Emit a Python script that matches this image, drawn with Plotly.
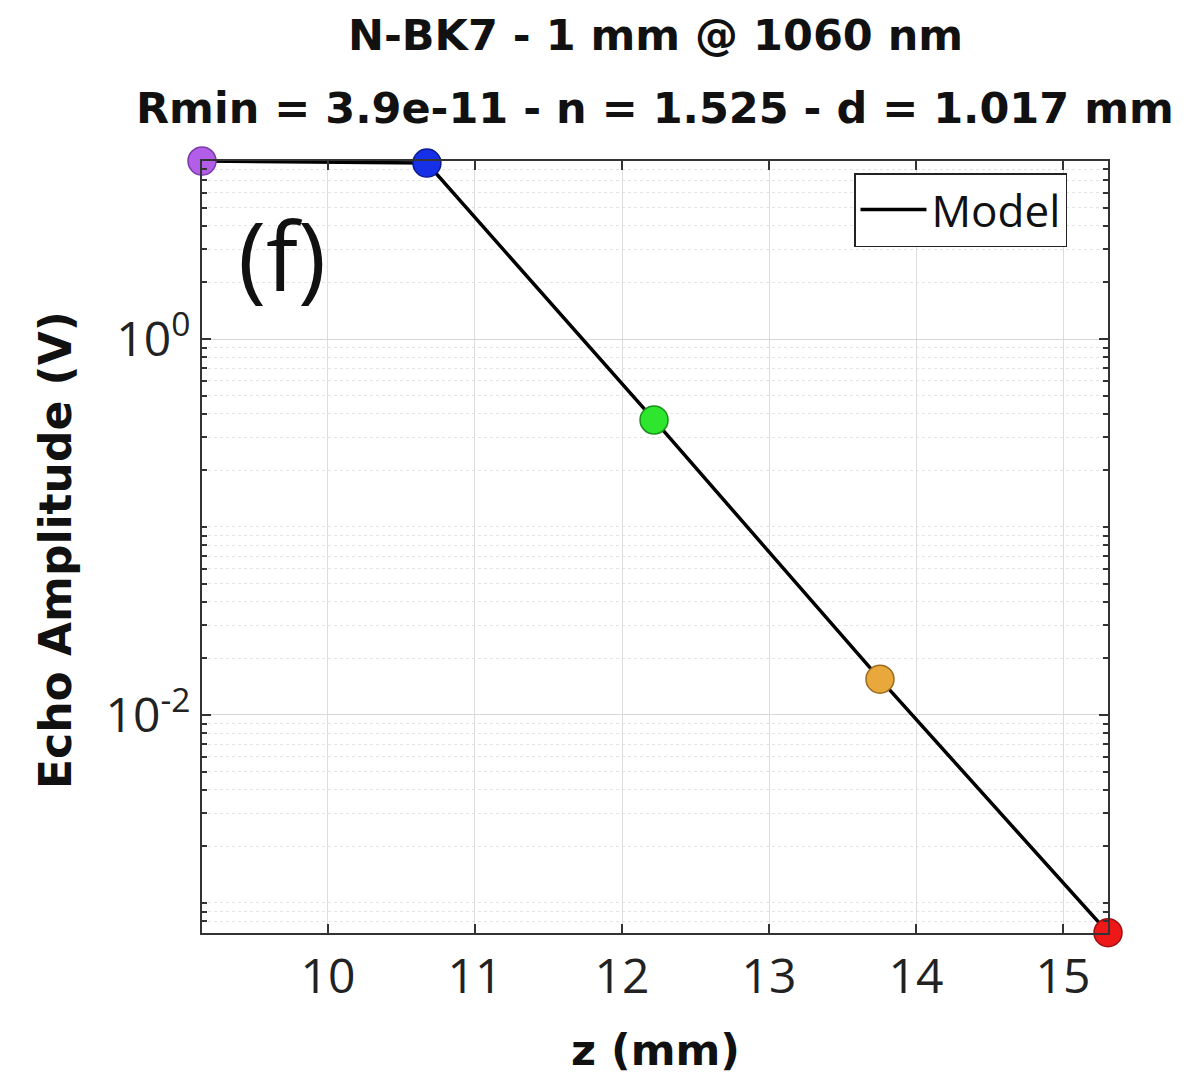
import plotly.graph_objects as go
import numpy as np

# ---- data ----
z_mm = [9.143, 10.673, 12.218, 13.755, 15.306]
amp_v = [8.85, 8.63, 0.371, 0.0155, 6.95e-4]
point_fill = ["#b25ee8", "#1530e6", "#2ee62e", "#e8a83c", "#ee1818"]
point_edge = ["#7a3aa8", "#0a1a90", "#1a901a", "#9a6a20", "#a00e0e"]
x_ticks = [10, 11, 12, 13, 14, 15]
y_ticks = [1e-2, 1]
y_ticktext = ["10<sup>-2</sup>", "10<sup>0</sup>"]
title1 = "N-BK7 - 1 mm @ 1060 nm"
title2 = "Rmin = 3.9e-11 - n = 1.525 - d = 1.017 mm"

minor_y = [k * 10.0 ** d for d in range(-4, 1) for k in range(1, 10)
           if not (k == 1 and d in (0, -2))]

FONT = "Open Sans"
BFONT = "DejaVu Sans"

fig = go.Figure()
fig.add_trace(go.Scatter(
    x=z_mm, y=amp_v, mode="lines", name="Model",
    line=dict(color="black", width=3.5), cliponaxis=False))
fig.add_trace(go.Scatter(
    x=z_mm, y=amp_v, mode="markers", showlegend=False,
    marker=dict(size=28, color=point_fill, line=dict(color=point_edge, width=1.5)),
    cliponaxis=False))

L, R, T, B = 202, 96, 161, 152
W, H = 1204, 1085
pw, ph = W - L - R, H - T - B

def py(ypx):
    return (H - B - ypx) / ph

def px(xpx):
    return (xpx - L) / pw

fig.update_layout(
    width=W, height=H,
    margin=dict(l=L, r=R, t=T, b=B),
    paper_bgcolor="white", plot_bgcolor="white",
    font=dict(family=FONT, color="#222222"),
    showlegend=True,
    legend=dict(x=px(1067), y=py(173), xanchor="right", yanchor="top",
                bordercolor="#222222", borderwidth=1.5, bgcolor="white",
                font=dict(size=44, family=FONT, color="#111111"),
                itemwidth=66, tracegroupgap=0),
    annotations=[
        dict(text="<b>" + title1 + "</b>", x=0.5, y=py(35), xref="paper", yref="paper",
             showarrow=False, xanchor="center", yanchor="middle",
             font=dict(size=43, family=BFONT, color="#111111")),
        dict(text="<b>" + title2 + "</b>", x=0.5, y=py(108), xref="paper", yref="paper",
             showarrow=False, xanchor="center", yanchor="middle",
             font=dict(size=43, family=BFONT, color="#111111")),
        dict(text="<b>Echo Amplitude (V)</b>", x=px(55), y=py(550), xref="paper", yref="paper",
             showarrow=False, xanchor="center", yanchor="middle", textangle=-90,
             font=dict(size=44, family=BFONT, color="#111111")),
        dict(text="<b>z (mm)</b>", x=0.5, y=py(1050), xref="paper", yref="paper",
             showarrow=False, xanchor="center", yanchor="middle",
             font=dict(size=43, family=BFONT, color="#111111")),
        dict(text="(f)", x=px(282), y=py(254), xref="paper", yref="paper",
             showarrow=False, xanchor="center", yanchor="middle",
             font=dict(size=95, family=FONT, color="#111111")),
    ],
)

fig.update_xaxes(
    range=[9.143, 15.306], tickvals=x_ticks, ticktext=[str(v) for v in x_ticks],
    showline=True, linecolor="#333333", linewidth=2, mirror="ticks",
    ticks="inside", ticklen=9, tickwidth=1.5, tickcolor="#333333",
    showgrid=True, gridcolor="#dddddd", gridwidth=1,
    zeroline=False,
    tickfont=dict(size=48, family=FONT, color="#222222"),
)
fig.update_yaxes(
    type="log", range=[-3.16, 0.947], tickvals=y_ticks, ticktext=y_ticktext,
    showline=True, linecolor="#333333", linewidth=2, mirror="ticks",
    ticks="inside", ticklen=9, tickwidth=1.5, tickcolor="#333333",
    showgrid=True, gridcolor="#d8d8d8", gridwidth=1,
    zeroline=False,
    tickfont=dict(size=48, family=FONT, color="#222222"),
    minor=dict(tickvals=minor_y, ticks="inside", ticklen=5, tickcolor="#333333",
               showgrid=True, gridcolor="#e4e4e4", griddash="dot", gridwidth=1),
)

fig.write_html("out.html")
